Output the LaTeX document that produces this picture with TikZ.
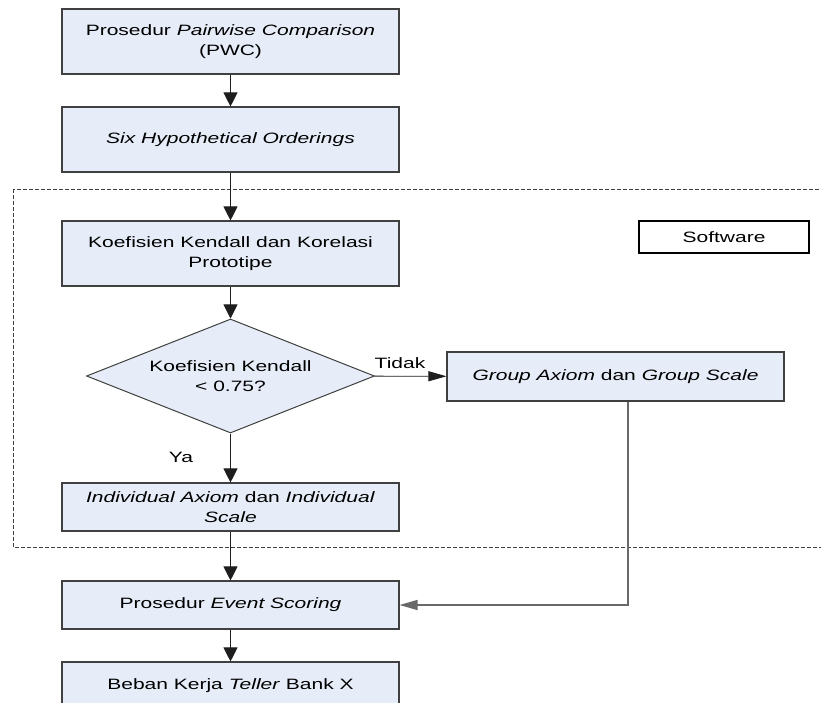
\documentclass[tikz,border=0pt]{standalone}
\usepackage{fontspec}
\setmainfont{Liberation Sans}[FakeStretch=1.4]
\usetikzlibrary{arrows.meta,shapes.geometric}
\definecolor{boxblue}{RGB}{230,237,248}
\definecolor{boxedge}{RGB}{64,64,64}
\definecolor{arrowgray}{RGB}{30,30,30}
\definecolor{linkgray}{RGB}{105,105,105}

\begin{document}
\begin{tikzpicture}[x=1pt, y=-1pt,
  every node/.style={font=\fontsize{15pt}{19.3pt}\selectfont},
  procbox/.style={draw=boxedge, fill=boxblue, line width=1.1pt, minimum width=337pt, align=center, inner sep=0pt},
  decbox/.style={diamond, aspect=2.5, draw=boxedge, fill=boxblue, line width=1pt, minimum width=288pt, minimum height=114pt, align=center, inner sep=0pt},
  conn/.style={-{Triangle[length=14pt,width=14pt]}, arrowgray, line width=0.9pt},
  hconn/.style={-{Triangle[length=18pt,width=10pt]}, arrowgray, line width=0.9pt}]
\clip (0,0) rectangle (821,703);
\fill[white] (0,0) rectangle (821,703);

% Software area
\draw[darkgray, line width=0.8pt, dash pattern=on 4pt off 2pt] (13,189) rectangle (850,547);
\node[draw=black, line width=1.5pt, fill=white, minimum width=170pt, minimum height=32pt, inner sep=0pt] (software) at (724,237) {Software};

% Steps
\node[procbox, minimum height=65pt] (pwc) at (230.5,41.5) {Prosedur \textit{Pairwise Comparison}\\(PWC)};
\node[procbox, minimum height=65pt] (orderings) at (230.5,139.5) {\textit{Six Hypothetical Orderings}};
\node[procbox, minimum height=65pt] (kendall) at (230.5,253.5) {Koefisien Kendall dan Korelasi\\Prototipe};

% Decision
\node[decbox] (decide) at (230.5,376) {Koefisien Kendall\\< 0.75?};

% Group path
\node[procbox, minimum height=49pt] (group) at (615.5,376.5) {\textit{Group Axiom} dan \textit{Group Scale}};

% Individual path
\node[procbox, minimum height=48pt] (indiv) at (230.5,507) {\textit{Individual Axiom} dan \textit{Individual}\\\textit{Scale}};

% Scoring and result
\node[procbox, minimum height=48pt] (scoring) at (230.5,605) {Prosedur \textit{Event Scoring}};
\node[procbox, minimum height=48pt] (workload) at (230.5,686) {Beban Kerja \textit{Teller} Bank X};

% Arrows
\draw[conn] (pwc) -- (orderings);
\draw[conn] (orderings) -- (kendall);
\draw[conn] (kendall) -- (decide);
\draw[hconn] (decide) -- (group);
\draw[conn] (decide) -- (indiv);
\draw[conn] (indiv) -- (scoring);
\draw[conn] (scoring) -- (workload);
\draw[hconn, linkgray, line width=1.3pt] ([xshift=12.5pt]group.south) |- (scoring.east);

\node (tidak) at (400,363) {Tidak};
\node (ya) at (181,457) {Ya};
\end{tikzpicture}
\end{document}
